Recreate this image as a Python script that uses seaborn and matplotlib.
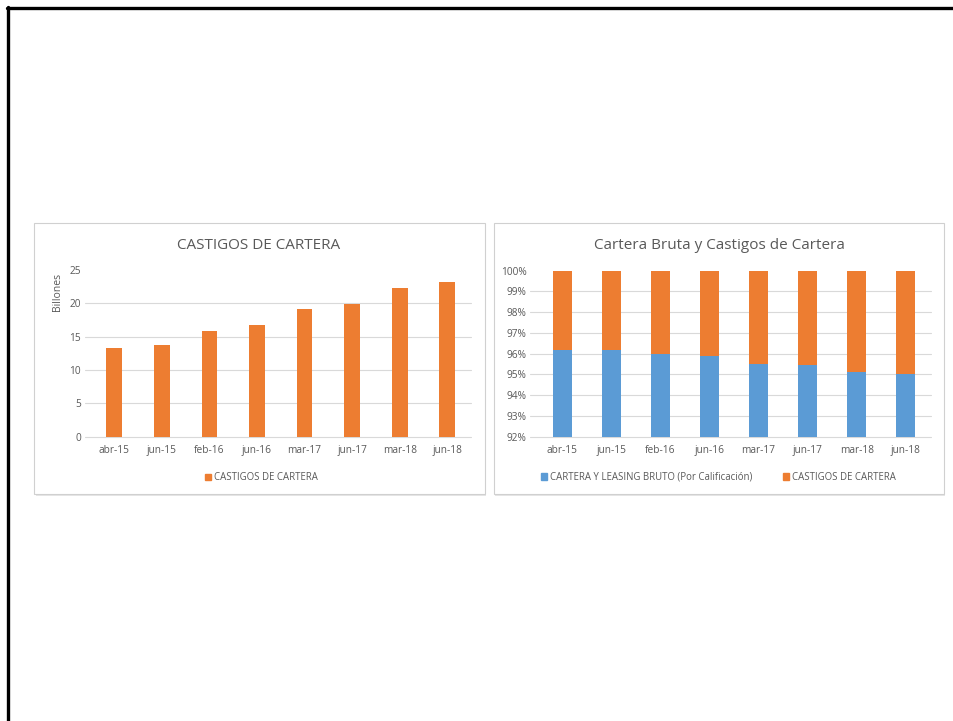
import matplotlib
matplotlib.use("Agg")
import matplotlib.pyplot as plt
import seaborn as sns
import pandas as pd
from matplotlib.patches import Rectangle, Patch
from matplotlib.lines import Line2D

# ---- data ----
periodos = ["abr-15", "jun-15", "feb-16", "jun-16", "mar-17", "jun-17", "mar-18", "jun-18"]
castigos_billones = [13.35, 13.7, 15.85, 16.8, 19.1, 19.9, 22.35, 23.15]
cartera_pct = [96.2, 96.2, 96.0, 95.9, 95.5, 95.45, 95.1, 95.0]
castigos_pct = [100 - v for v in cartera_pct]

ORANGE = "#ED7D31"
BLUE = "#5B9BD5"
GRAY_TXT = "#595959"
GRID = "#D9D9D9"

sns.set_theme(style="white")
plt.rcParams["font.family"] = ["Open Sans", "DejaVu Sans"]

W, H = 954, 721
fig = plt.figure(figsize=(W / 100, H / 100), dpi=100)

def fx(px):
    return px / W

def fy(py):
    return 1 - py / H

# slide frame (top and left border)
fig.add_artist(Line2D([fx(7), fx(953)], [fy(8), fy(8)], color="black", lw=2.4))
fig.add_artist(Line2D([fx(8), fx(8)], [fy(7), fy(721)], color="black", lw=2.4))

# panel boxes
for x0, x1 in [(34, 485), (494, 944)]:
    fig.add_artist(Rectangle((fx(x0 + 1.5), fy(495.5)), fx(x1 - x0), fy(223) - fy(494),
                             facecolor="#E6E6E6", edgecolor="none", zorder=-2))
    fig.add_artist(Rectangle((fx(x0), fy(494)), fx(x1 - x0), fy(223) - fy(494),
                             facecolor="white", edgecolor="#D0D0D0", lw=0.8, zorder=-1))

TICK_FS = 7.3
LEG_FS = 6.9

# ---- left chart ----
ax1 = fig.add_axes([fx(90.5), fy(436.7), fx(471 - 90.5), fy(270) - fy(436.7)])
ax1.set_zorder(2)
df1 = pd.DataFrame({"periodo": periodos, "valor": castigos_billones})
sns.barplot(data=df1, x="periodo", y="valor", color=ORANGE, saturation=1,
            width=0.33, ax=ax1, zorder=3, linewidth=0)
ax1.set_ylim(0, 25)
ax1.set_xlim(-0.5, 7.5)
ax1.set_yticks([0, 5, 10, 15, 20, 25])
for v in [0, 5, 10, 15, 20]:
    ax1.add_line(Line2D([-0.62, 7.5], [v, v], color=GRID, lw=0.8, zorder=1, clip_on=False))
ax1.set_xlabel("")
ax1.set_ylabel("")
ax1.tick_params(axis="both", length=0, labelsize=TICK_FS, labelcolor=GRAY_TXT)
ax1.tick_params(axis="y", pad=7)
ax1.tick_params(axis="x", pad=6)
for s in ax1.spines.values():
    s.set_visible(False)
ax1.set_facecolor("none")
fig.text(fx(58), fy(292), "Billones", rotation=90, ha="center", va="center",
         fontsize=7.5, color=GRAY_TXT)
fig.text(fx(259), fy(245), "CASTIGOS DE CARTERA", ha="center", va="center",
         fontsize=11, color=GRAY_TXT)
ax1.legend(handles=[Patch(color=ORANGE, label="CASTIGOS DE CARTERA")],
           loc="center", bbox_to_anchor=(0.45, -0.245), frameon=False, fontsize=LEG_FS,
           handlelength=0.6, handleheight=0.6, handletextpad=0.3,
           labelcolor=GRAY_TXT)

# ---- right chart ----
ax2 = fig.add_axes([fx(537.7), fy(436.7), fx(930.3 - 537.7), fy(270.7) - fy(436.7)])
ax2.set_zorder(2)
total_pct = [a + b for a, b in zip(cartera_pct, castigos_pct)]
df_tot = pd.DataFrame({"periodo": periodos, "valor": total_pct})
df_car = pd.DataFrame({"periodo": periodos, "valor": cartera_pct})
sns.barplot(data=df_tot, x="periodo", y="valor", color=ORANGE, saturation=1,
            width=0.39, ax=ax2, zorder=3, linewidth=0)
sns.barplot(data=df_car, x="periodo", y="valor", color=BLUE, saturation=1,
            width=0.39, ax=ax2, zorder=4, linewidth=0)
ax2.set_ylim(92, 100)
ax2.set_xlim(-0.5, 7.5)
yt = list(range(92, 101))
ax2.set_yticks(yt)
ax2.set_yticklabels([f"{v}%" for v in yt])
for v in yt[:-1]:
    ax2.add_line(Line2D([-0.66, 7.52], [v, v], color=GRID, lw=0.8, zorder=1, clip_on=False))
ax2.set_xlabel("")
ax2.set_ylabel("")
ax2.tick_params(axis="both", length=0, labelsize=TICK_FS, labelcolor=GRAY_TXT)
ax2.tick_params(axis="y", pad=8)
ax2.tick_params(axis="x", pad=6)
for s in ax2.spines.values():
    s.set_visible(False)
ax2.set_facecolor("none")
fig.text(fx(719), fy(245), "Cartera Bruta y Castigos de Cartera", ha="center", va="center",
         fontsize=11, color=GRAY_TXT)
ax2.legend(handles=[Patch(color=BLUE, label="CARTERA Y LEASING BRUTO (Por Calificación)"),
                    Patch(color=ORANGE, label="CASTIGOS DE CARTERA")],
           loc="center", bbox_to_anchor=(0.46, -0.245), frameon=False, fontsize=LEG_FS,
           ncol=2, columnspacing=3.2,
           handlelength=0.6, handleheight=0.6, handletextpad=0.3,
           labelcolor=GRAY_TXT)

fig.savefig("out.png", dpi=100, facecolor="white")
